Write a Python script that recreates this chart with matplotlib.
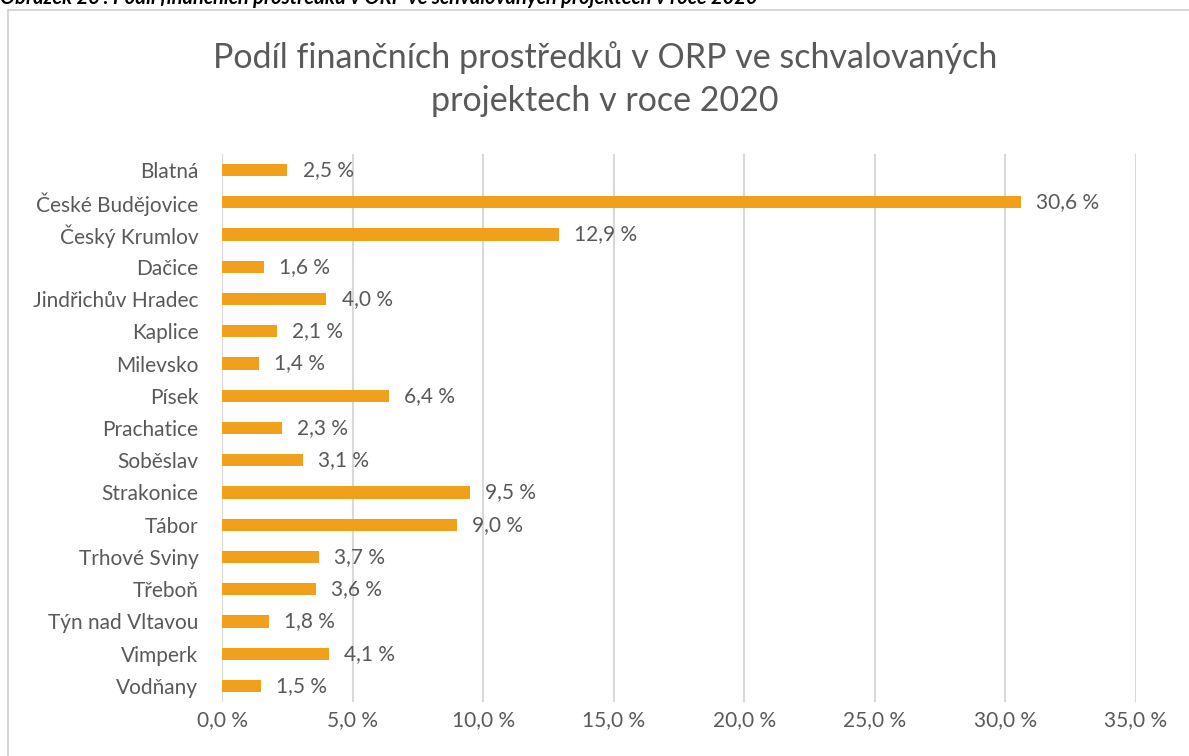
import numpy as np
import matplotlib.pyplot as plt

plt.rcParams['font.family'] = ['Lato', 'DejaVu Sans']

# ORP names and their share of funds (%)
orp = ['Blatná', 'České Budějovice', 'Český Krumlov', 'Dačice', 'Jindřichův Hradec',
       'Kaplice', 'Milevsko', 'Písek', 'Prachatice', 'Soběslav', 'Strakonice',
       'Tábor', 'Trhové Sviny', 'Třeboň', 'Týn nad Vltavou', 'Vimperk', 'Vodňany']
podil = [2.5, 30.6, 12.9, 1.6, 4.0, 2.1, 1.4, 6.4, 2.3, 3.1, 9.5, 9.0, 3.7, 3.6, 1.8, 4.1, 1.5]
x_ticks = [0, 5, 10, 15, 20, 25, 30, 35]

gray = '#595959'
bar_color = '#F0A01A'

def cz(v):
    return f'{v:.1f}'.replace('.', ',') + ' %'

fig = plt.figure(figsize=(11.89, 7.56), dpi=100)
W, H = 1189, 756

# outer chart border (only top and left visible)
fig.add_artist(plt.Line2D([8 / W, 8 / W], [0, 1 - 10 / H], color='#d0d0d0', lw=1.2))
fig.add_artist(plt.Line2D([8 / W, 1], [1 - 10 / H, 1 - 10 / H], color='#d0d0d0', lw=1.2))

# caption above the chart (cut at the top edge, as in the source)
fig.text(0.0, 1 - 4 / H, 'Obrázek 26 : Podíl finančních prostředků v ORP ve schvalovaných projektech v roce 2020',
         fontsize=14.5, fontweight='bold', fontstyle='italic', color='black', va='baseline')

ax = fig.add_axes([222 / W, 1 - 702 / H, (1136 - 222) / W, (702 - 154) / H])
y = np.arange(len(orp))
ax.barh(y, podil, height=0.38, color=bar_color, zorder=3)
ax.set_ylim(len(orp) - 0.5, -0.5)
ax.set_xlim(0, 35)
ax.set_xticks(x_ticks)
ax.set_xticklabels([cz(v) for v in x_ticks], fontsize=15, color=gray)
ax.set_yticks(y)
ax.set_yticklabels(orp, fontsize=15, color=gray)
ax.tick_params(length=0)
ax.tick_params(axis='y', pad=17)
ax.tick_params(axis='x', pad=6)
ax.grid(axis='x', color='#d9d9d9', lw=1.5, zorder=0)
for s in ax.spines.values():
    s.set_visible(False)

for yi, v in zip(y, podil):
    ax.annotate(cz(v), (v, yi), xytext=(11, 0), textcoords='offset points',
                va='center', ha='left', fontsize=15, color=gray)

fig.text(605 / W, 1 - 79 / H, 'Podíl finančních prostředků v ORP ve schvalovaných\nprojektech v roce 2020',
         ha='center', va='center', fontsize=24.5, color=gray, linespacing=1.42)

fig.savefig('out.png', dpi=100)
